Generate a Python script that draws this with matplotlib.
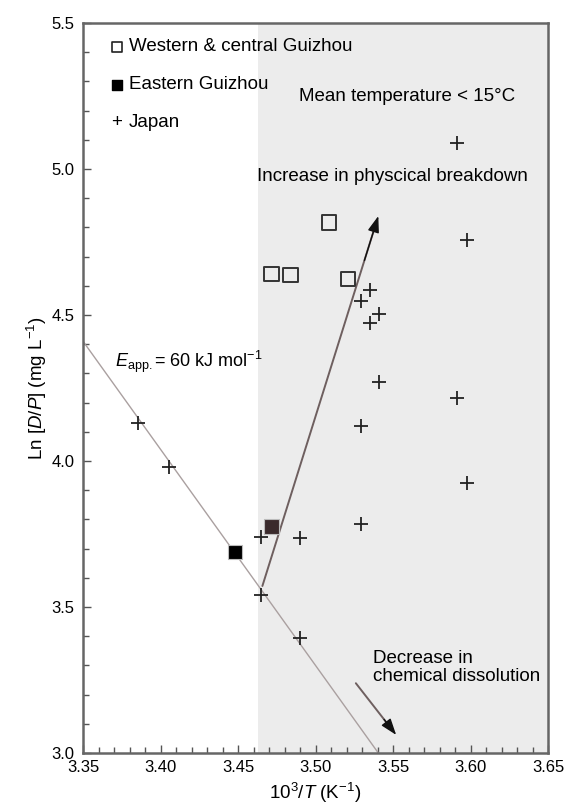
import matplotlib
matplotlib.use("Agg")
import matplotlib.pyplot as plt
from matplotlib.ticker import MultipleLocator

plt.rcParams['font.family'] = ['Liberation Sans', 'DejaVu Sans']
plt.rcParams['mathtext.fontset'] = 'custom'
plt.rcParams['mathtext.rm'] = 'Liberation Sans'
plt.rcParams['mathtext.it'] = 'Liberation Sans:italic'

# Data
western_x = [3.5087, 3.4717, 3.484, 3.521]
western_y = [4.816, 4.640, 4.637, 4.623]

eastern_x = [3.448, 3.4717]
eastern_y = [3.689, 3.775]
eastern_colors = ['#000000', '#3a2a2c']

japan_x = [3.591, 3.598, 3.535, 3.529, 3.541, 3.535, 3.541, 3.591, 3.529,
           3.598, 3.529, 3.3857, 3.4057, 3.4646, 3.49, 3.4646, 3.49]
japan_y = [5.088, 4.757, 4.586, 4.549, 4.503, 4.474, 4.272, 4.216, 4.120,
           3.926, 3.784, 4.131, 3.978, 3.741, 3.737, 3.541, 3.393]

fit_x = [3.35, 3.5405]
fit_y = [4.41, 3.0]

inc_arrow_x = [3.4657, 3.5405]
inc_arrow_y = [3.572, 4.839]
dec_arrow_x = [3.526, 3.552]
dec_arrow_y = [3.239, 3.062]

cold_start = 3.463

fig = plt.figure(figsize=(5.65, 8.07), dpi=100)
ax = fig.add_axes([0.147, 0.0669, 0.823, 0.9046])
ax.set_xlim(3.35, 3.65)
ax.set_ylim(3.0, 5.5)

ax.axvspan(cold_start, 3.65, color='#ececec', zorder=0, lw=0)

ax.plot(fit_x, fit_y, color='#aaa0a0', lw=1.0, zorder=2)

def arrow(xs, ys):
    ax.annotate('', xy=(xs[1], ys[1]), xytext=(xs[0], ys[0]),
                arrowprops=dict(arrowstyle='-', color='#6e5f5f', lw=1.4,
                                shrinkA=0, shrinkB=4), zorder=3)
    dx = xs[1] - xs[0]
    dy = ys[1] - ys[0]
    f = 0.12 if abs(dy) > 1 else 0.3
    ax.annotate('', xy=(xs[1], ys[1]), xytext=(xs[1] - f * dx, ys[1] - f * dy),
                arrowprops=dict(arrowstyle='-|>,head_length=1.0,head_width=0.35',
                                color='#111111', lw=1.0, shrinkA=0, shrinkB=0),
                zorder=4)

arrow(inc_arrow_x, inc_arrow_y)
arrow(dec_arrow_x, dec_arrow_y)

ax.scatter(japan_x, japan_y, marker='+', s=90, color='#222222', linewidths=1.3, zorder=5)
ax.scatter(western_x, western_y, marker='s', s=110, facecolors='none',
           edgecolors='#333333', linewidths=1.4, zorder=5)
ax.scatter(eastern_x, eastern_y, marker='s', s=110, c=eastern_colors,
           edgecolors='#bbbbbb', linewidths=0.8, zorder=5)

# Legend as text
fs = 13.5
ax.scatter([3.3717], [5.418], marker='s', s=45, facecolors='white', edgecolors='#222222', linewidths=1.2, zorder=6)
ax.text(3.3795, 5.418, 'Western & central Guizhou', fontsize=fs, va='center', ha='left')
ax.scatter([3.3717], [5.288], marker='s', s=45, color='black', zorder=6)
ax.text(3.3795, 5.288, 'Eastern Guizhou', fontsize=fs, va='center', ha='left')
ax.text(3.3717, 5.158, '+', fontsize=fs, va='center', ha='center')
ax.text(3.3795, 5.158, 'Japan', fontsize=fs, va='center', ha='left')

ax.text(3.489, 5.25, 'Mean temperature < 15°C', fontsize=fs, va='center', ha='left')
ax.text(3.462, 4.976, 'Increase in physcical breakdown', fontsize=fs, va='center', ha='left')
ax.text(3.3706, 4.34, r'$\mathit{E}_{\mathrm{app.}}$= 60 kJ mol$^{-1}$', fontsize=13, va='center', ha='left')
ax.text(3.537, 3.293, 'Decrease in\nchemical dissolution', fontsize=fs, va='center', ha='left',
        linespacing=1.12)

ax.xaxis.set_major_locator(MultipleLocator(0.05))
ax.xaxis.set_minor_locator(MultipleLocator(0.01))
ax.yaxis.set_major_locator(MultipleLocator(0.5))
ax.yaxis.set_minor_locator(MultipleLocator(0.1))
ax.xaxis.set_major_formatter(plt.FormatStrFormatter('%.2f'))
ax.yaxis.set_major_formatter(plt.FormatStrFormatter('%.1f'))
ax.tick_params(which='both', direction='in', color='#555555', labelsize=12)
ax.tick_params(which='major', length=6, width=1)
ax.tick_params(which='minor', length=4, width=1)
ax.tick_params(axis='x', pad=5)
ax.tick_params(axis='y', pad=6)
for s in ax.spines.values():
    s.set_color('#666666')
    s.set_linewidth(1.8)

ax.set_xlabel(r'10$^3$/$\mathit{T}$ (K$^{-1}$)', fontsize=fs, labelpad=4)
ax.set_ylabel(r'Ln [$\mathit{D}$/$\mathit{P}$] (mg L$^{-1}$)', fontsize=fs, labelpad=2)

fig.savefig('out.png', dpi=100)
